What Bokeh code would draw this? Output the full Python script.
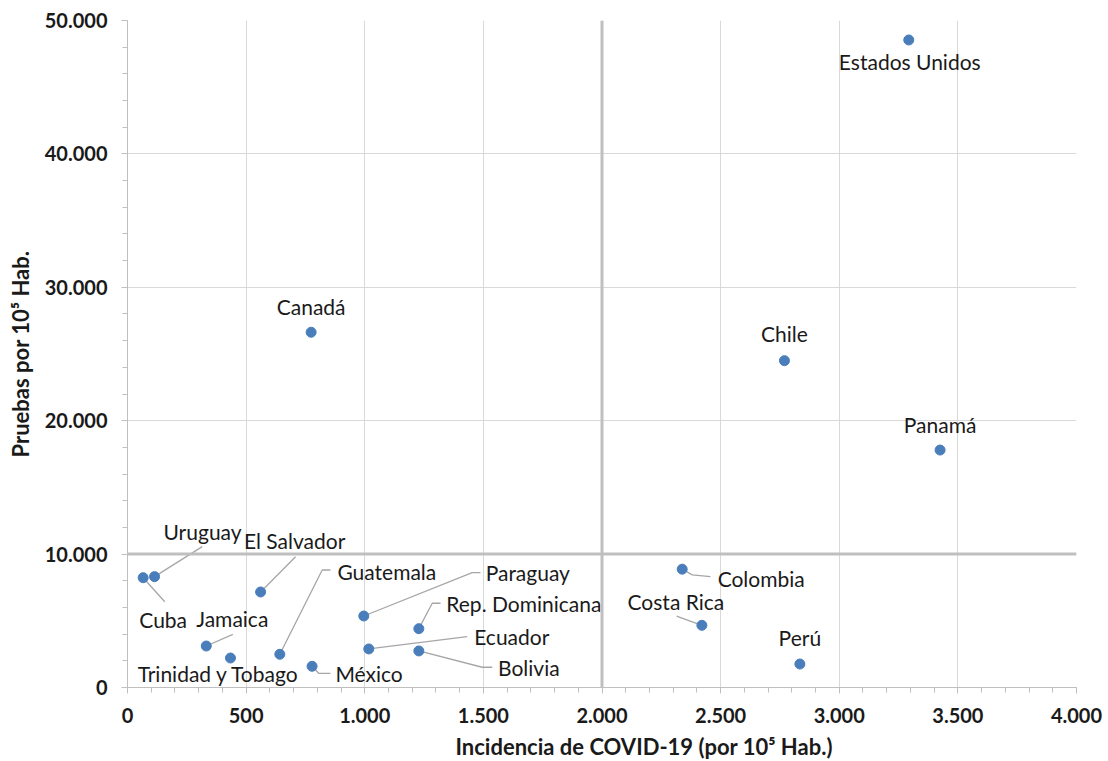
from bokeh.plotting import figure
from bokeh.models import (Range1d, SingleIntervalTicker, CustomJSTickFormatter,
                          Span, Title)
from bokeh.core.properties import value
from bokeh.embed import file_html
from bokeh.resources import INLINE

# Incidence of COVID-19 vs. tests, both per 100,000 inhabitants
paises = ["Estados Unidos", "Canadá", "Chile", "Panamá", "Colombia", "Costa Rica",
          "Perú", "Uruguay", "Cuba", "El Salvador", "Jamaica", "Trinidad y Tobago",
          "Guatemala", "México", "Paraguay", "Rep. Dominicana", "Ecuador", "Bolivia"]
incidencia = [3293, 774, 2769, 3425, 2338, 2421, 2834, 114, 66, 561, 332, 434,
              642, 778, 996, 1228, 1017, 1228]
pruebas = [48540, 26630, 24500, 17800, 8870, 4660, 1760, 8310, 8230, 7160, 3110, 2210,
           2490, 1590, 5360, 4410, 2890, 2740]

x_max, y_max = 4000, 50000
x_step, y_step = 500, 10000
x_corte, y_corte = 2000, 10000   # quadrant dividers

# Label placement: offset of the label centre from its point, in screen pixels
# (dx to the right, dy downwards)
label_offset = {
    "Estados Unidos": (1, 22), "Canadá": (0, -26), "Chile": (0, -27),
    "Panamá": (0, -26), "Colombia": (79, 9), "Costa Rica": (-26, -24),
    "Perú": (0, -27), "Uruguay": (48, -45), "Cuba": (20, 42),
    "El Salvador": (34, -51), "Jamaica": (26, -28), "Trinidad y Tobago": (-12, 15),
    "Guatemala": (107, -83), "México": (57, 7), "Paraguay": (164, -43),
    "Rep. Dominicana": (105, -25), "Ecuador": (143, -12), "Bolivia": (110, 17),
}
# Leader-line vertices after the point itself, in screen pixels
leader = {
    "Uruguay": [(47.7, -30)],
    "Cuba": [(21.6, 24)],
    "El Salvador": [(35, -35.3)],
    "Jamaica": [(26.6, -11.7)],
    "Guatemala": [(42.4, -84.3), (50.7, -84.3)],
    "México": [(6.6, 7), (18.3, 7)],
    "Paraguay": [(108.4, -43.3), (116.7, -43.3)],
    "Rep. Dominicana": [(13.4, -25.4), (21.7, -25.4)],
    "Ecuador": [(98.4, -12.3)],
    "Bolivia": [(63.4, 16.3), (73.4, 16.3)],
    "Colombia": [(10, 5.7), (28.3, 7.4)],
    "Costa Rica": [(-25.3, -9.3)],
}

FRAME_W, FRAME_H = 949, 667
px_x = FRAME_W / x_max
px_y = FRAME_H / y_max

FONT = "Lato"
INK = "#1a1a1a"

p = figure(frame_width=FRAME_W, frame_height=FRAME_H,
           x_range=Range1d(0, x_max), y_range=Range1d(0, y_max),
           output_backend="svg", toolbar_location=None,
           min_border_left=127, min_border_top=20, min_border_right=32,
           min_border_bottom=74, outline_line_color=None,
           background_fill_color="white", border_fill_color="white")

fmt = CustomJSTickFormatter(code=r"""
return Math.round(tick).toString().replace(/\B(?=(\d{3})+(?!\d))/g, '.');
""")

p.xaxis.ticker = SingleIntervalTicker(interval=x_step, num_minor_ticks=5)
p.yaxis.ticker = SingleIntervalTicker(interval=y_step, num_minor_ticks=5)
for ax in (p.xaxis[0], p.yaxis[0]):
    ax.formatter = fmt
    ax.axis_line_color = "#bfbfbf"
    ax.major_tick_line_color = "#bfbfbf"
    ax.minor_tick_line_color = "#bfbfbf"
    ax.major_tick_in = 0
    ax.major_tick_out = 6
    ax.minor_tick_in = 0
    ax.minor_tick_out = 5
    ax.major_label_text_font = FONT
    ax.major_label_text_font_size = "20px"
    ax.major_label_text_font_style = "bold"
    ax.major_label_text_color = INK
    ax.major_label_standoff = 14

p.yaxis.axis_label = "Pruebas por 10⁵ Hab."
p.yaxis.axis_label_text_font = FONT
p.yaxis.axis_label_text_font_size = "22px"
p.yaxis.axis_label_text_font_style = "bold"
p.yaxis.axis_label_text_color = INK
p.yaxis.axis_label_standoff = 8

for g in (p.xgrid[0], p.ygrid[0]):
    g.grid_line_color = "#d9d9d9"
    g.grid_line_width = 1

p.add_layout(Span(location=x_corte, dimension="height",
                  line_color="#bfbfbf", line_width=3))
p.add_layout(Span(location=y_corte, dimension="width",
                  line_color="#bfbfbf", line_width=3))

xt = Title(text="Incidencia de COVID-19 (por 10⁵ Hab.)", align="left", offset=328,
           text_font=FONT, text_font_size="22px", text_font_style="bold",
           text_color=INK)
p.add_layout(xt, "below")

# leader lines from each point towards its label
xs, ys = [], []
for name, x, y in zip(paises, incidencia, pruebas):
    if name in leader:
        lx = [x] + [x + dx / px_x for dx, dy in leader[name]]
        ly = [y] + [y - dy / px_y for dx, dy in leader[name]]
        xs.append(lx)
        ys.append(ly)
p.multi_line(xs, ys, line_color="#a6a6a6", line_width=1.3)

p.scatter(incidencia, pruebas, size=10, fill_color="#4a7ebb", line_color="#4a7ebb")

tx = [x + label_offset[n][0] / px_x for n, x in zip(paises, incidencia)]
ty = [y - label_offset[n][1] / px_y for n, y in zip(paises, pruebas)]
p.text(tx, ty, text=paises, text_align="center", text_baseline="middle",
       text_font=value(FONT), text_font_size="21px", text_color=INK)

open("out.html", "w").write(file_html(p, INLINE))
